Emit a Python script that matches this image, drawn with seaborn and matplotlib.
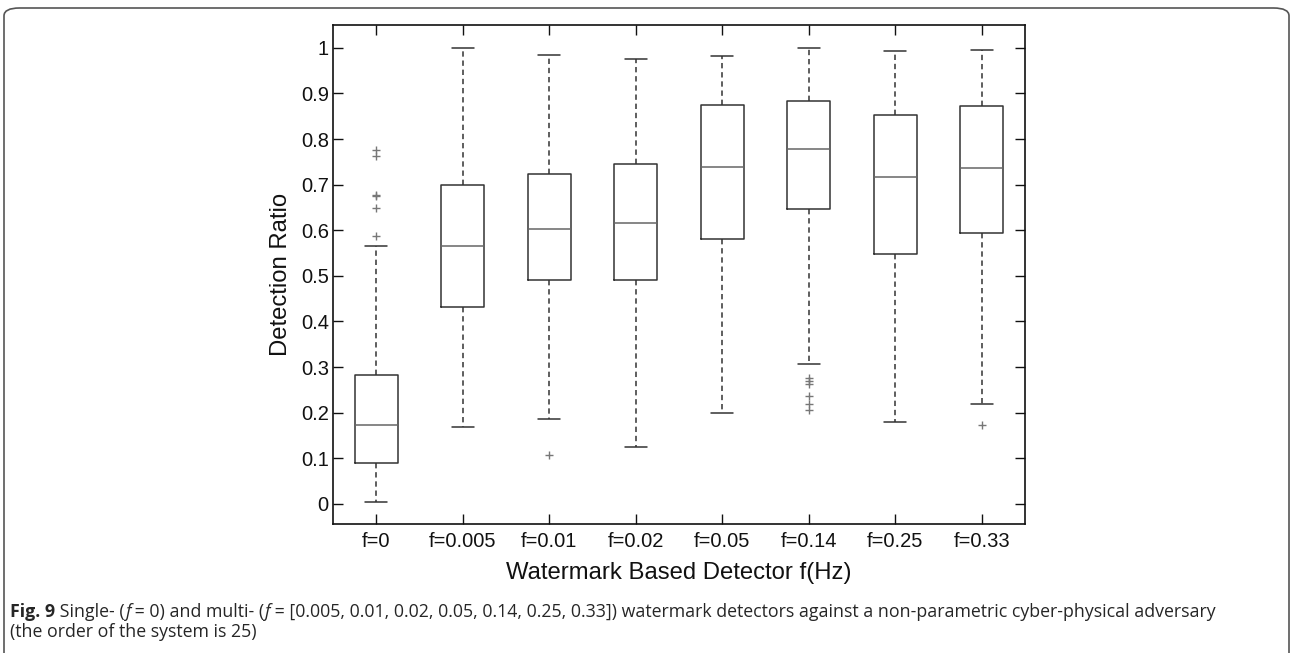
import numpy as np
import pandas as pd
import matplotlib.pyplot as plt
from matplotlib.patches import FancyBboxPatch
import seaborn as sns

sns.set_style("ticks")
plt.rcParams['font.family'] = ['Liberation Sans', 'DejaVu Sans']

# box statistics
detectors = ["f=0", "f=0.005", "f=0.01", "f=0.02", "f=0.05", "f=0.14", "f=0.25", "f=0.33"]
lower_whisker = [0.004, 0.168, 0.187, 0.124, 0.200, 0.307, 0.180, 0.218]
q1 = [0.090, 0.431, 0.491, 0.492, 0.581, 0.646, 0.548, 0.594]
median = [0.174, 0.565, 0.602, 0.615, 0.739, 0.779, 0.717, 0.736]
q3 = [0.283, 0.700, 0.723, 0.746, 0.874, 0.883, 0.852, 0.872]
upper_whisker = [0.566, 1.000, 0.985, 0.976, 0.982, 1.000, 0.993, 0.996]
outliers = [[0.776, 0.763, 0.678, 0.675, 0.648, 0.588], [], [0.108], [], [],
            [0.277, 0.270, 0.263, 0.236, 0.218, 0.205], [], [0.174]]

# expand the summary into samples whose quartiles reproduce those values
rows = []
for name, lo, a, m, b, hi, out in zip(detectors, lower_whisker, q1, median, q3, upper_whisker, outliers):
    vals = [lo] + [a] * 20 + [m] * 20 + [b] * 20 + [hi] + list(out)
    rows += [(name, v) for v in vals]
df = pd.DataFrame(rows, columns=["detector", "ratio"])

fig = plt.figure(figsize=(12.91, 6.53), dpi=100)
ax = fig.add_axes([333 / 1291, 1 - 524 / 653, 692 / 1291, 499 / 653])

sns.boxplot(data=df, x="detector", y="ratio", order=detectors, ax=ax,
            width=0.5, whis=1.5, fill=False, color="#333333", linewidth=1.1,
            whiskerprops={"linestyle": (0, (3.5, 2.5))},
            medianprops={"color": "#666666"},
            flierprops={"marker": "+", "markersize": 6, "markeredgecolor": "#777777",
                        "markeredgewidth": 1})

ax.set_xlim(-0.5, 7.5)
ax.set_ylim(-0.044, 1.05)
ax.set_yticks(np.arange(0, 1.01, 0.1))
ax.set_yticklabels(["0", "0.1", "0.2", "0.3", "0.4", "0.5", "0.6", "0.7", "0.8", "0.9", "1"])
ax.tick_params(direction="in", length=7, width=1, top=True, right=True,
               labelsize=14.5, colors="#111111")
ax.tick_params(axis="y", pad=3)
ax.tick_params(axis="x", pad=6)
for s in ax.spines.values():
    s.set_visible(True)
    s.set_linewidth(1.2)
    s.set_color("#111111")
ax.set_xlabel("Watermark Based Detector f(Hz)", fontsize=17.2, labelpad=8, color="#111111")
ax.set_ylabel("Detection Ratio", fontsize=17.2, labelpad=6, color="#111111")

# caption frame
frame = FancyBboxPatch((4 / 1291, -0.05), 1285 / 1291, 1.05 - 8 / 653,
                       boxstyle="round,pad=0,rounding_size=0.012", transform=fig.transFigure,
                       facecolor="none", edgecolor="#555555", linewidth=1.2, clip_on=False)
fig.patches.append(frame)

cap_font = "Open Sans"
cs = 12.8
y1 = 1 - 617 / 653
t = fig.text(10 / 1291, y1, "Fig. 9", fontsize=cs, fontweight="bold", family=cap_font, va="baseline")
pieces = [(" Single- (", "normal"), ("f", "italic"), (" = 0) and multi- (", "normal"), ("f", "italic"),
          (" = [0.005, 0.01, 0.02, 0.05, 0.14, 0.25, 0.33]) watermark detectors against a non-parametric cyber-physical adversary", "normal")]
for txt, st in pieces:
    t = ax.annotate(txt, xy=(1, 0), xycoords=t, fontsize=cs, fontstyle=st, family=cap_font,
                    va="bottom", ha="left", annotation_clip=False)
fig.text(10 / 1291, 1 - 637 / 653, "(the order of the system is 25)", fontsize=cs, family=cap_font, va="baseline")

fig.savefig("out.png", dpi=100)
